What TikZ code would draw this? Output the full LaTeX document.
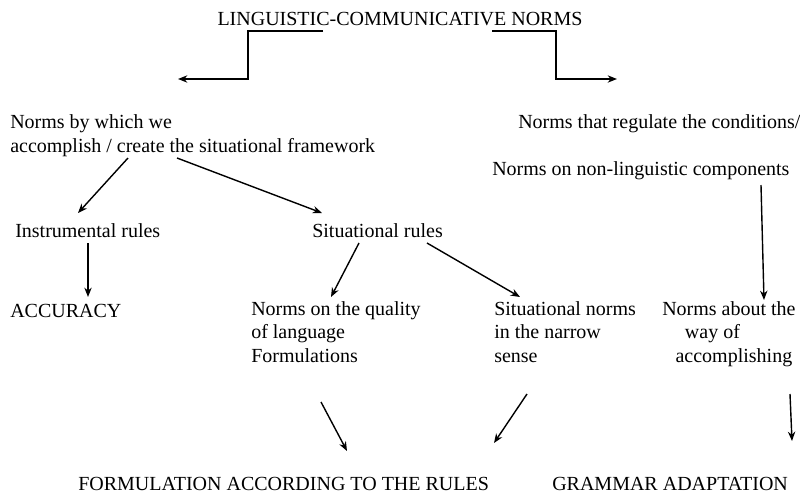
\documentclass[tikz,border=0pt]{standalone}
\usepackage{fontspec}
\setmainfont{Liberation Serif}
\usetikzlibrary{arrows.meta, calc, positioning}
\tikzset{>={Stealth[length=7pt, width=5.5pt]}}

\begin{document}
\begin{tikzpicture}[
  x=0.75pt, y=-0.75pt,
  normtext/.style={inner sep=0pt, anchor=base west, align=left, font=\fontsize{15}{17.5}\selectfont},
  flowarrow/.style={->, line width=1.05pt, black}
]
\useasboundingbox (0,0) rectangle (800,494);

% Top level
\node[normtext, anchor=base] (title) at (400,25) {LINGUISTIC-COMMUNICATIVE NORMS};
\coordinate (lefttip) at (178,79);
\coordinate (righttip) at (617,79);

% Two branches from the title
\draw[flowarrow] ($(title.base)+(-77,6)$) -| ($(lefttip)+(70,0)$) -- (lefttip);
\draw[flowarrow] ($(title.base)+(92,6)$) -| ($(righttip)+(-61,0)$) -- (righttip);

% Left branch (base of a multi-line node = its last line)
\node[normtext, font=\fontsize{15}{18}\selectfont] (framework) at (10,152) {Norms by which we\\accomplish / create the situational framework};
\node[normtext] (instrumental) at (15,237) {Instrumental rules};
\node[normtext] (situational) at (312,237) {Situational rules};
\node[normtext] (accuracy) at (10,317) {ACCURACY};
\node[normtext] (quality) at (251,362) {Norms on the quality\\of language\\Formulations};
\node[normtext] (narrow) at (494,362) {Situational norms\\in the narrow\\sense};

% Right branch
\node[normtext] (conditions) at (518,128) {Norms that regulate the conditions/};
\node[normtext] (nonling) at (492,175) {Norms on non-linguistic components};
\node[normtext] (way) at (662,362) {Norms about the\\\hspace*{17pt}way of\\\hspace*{10pt}accomplishing};

% Results
\node[normtext] (rules) at (78,490) {FORMULATION ACCORDING TO THE RULES};
\node[normtext] (grammar) at (552,490) {GRAMMAR ADAPTATION};

% Connectors
\draw[flowarrow] ($(framework.base west)+(118,6)$) -- ($(instrumental.base west)+(63,-24)$);
\draw[flowarrow] ($(framework.base west)+(167,6)$) -- ($(situational.base west)+(10,-24)$);
\draw[flowarrow] ($(instrumental.base west)+(73,6)$) -- ($(accuracy.base west)+(78,-20)$);
\draw[flowarrow] ($(situational.base west)+(47,6)$) -- ($(quality.base west)+(80,-65)$);
\draw[flowarrow] ($(situational.base west)+(115,6)$) -- ($(narrow.base west)+(26,-65)$);
\draw[flowarrow] ($(nonling.base west)+(269,10)$) -- ($(way.base west)+(102,-62)$);
\draw[flowarrow] ($(quality.base west)+(70,40)$) -- ($(rules.base west)+(269,-39)$);
\draw[flowarrow] ($(narrow.base west)+(33,32)$) -- ($(rules.base west)+(416,-47)$);
\draw[flowarrow] ($(way.base west)+(128,32)$) -- ($(grammar.base west)+(240,-49)$);

\end{tikzpicture}
\end{document}
